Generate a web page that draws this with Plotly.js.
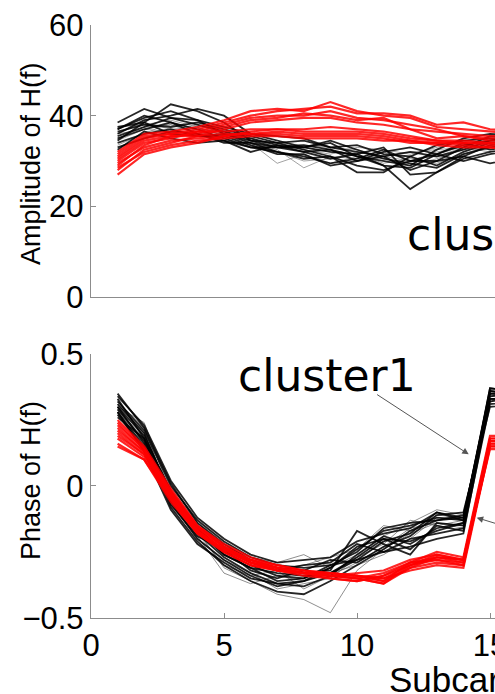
<!DOCTYPE html>
<html>
<head>
<meta charset="utf-8">
<script src="https://cdn.plot.ly/plotly-3.0.1.min.js"></script>
<style>
html,body{margin:0;padding:0;overflow:hidden;background:#fff;}
#chart{width:1000px;height:694px;}
</style>
</head>
<body>
<div id="chart"></div>
<script>
// Subcarrier indices (visible part of the chart)
const subcarrier = [1,2,3,4,5,6,7,8,9,10,11,12,13,14,15,16];

// Amplitude of H(f) — cluster 1 (black), thin grey samples, cluster 2 (red)
const ampBlack = [
  [38.5,41.5,39.5,38.0,36.5,35.0,33.5,33.0,32.0,31.5,29.0,23.8,27.5,31.0,33.5,34.0],
  [37.5,38.5,42.5,41.0,38.5,34.5,34.0,32.5,31.0,27.5,27.5,31.0,29.0,32.0,34.0,34.5],
  [36.0,39.0,40.0,41.5,40.0,36.0,35.5,35.0,33.0,32.0,31.0,28.0,30.0,33.0,35.5,35.0],
  [35.0,37.0,38.5,37.0,35.0,33.0,32.0,31.0,29.5,30.5,32.5,30.0,31.5,33.5,34.5,35.0],
  [34.0,36.0,37.0,35.5,36.0,34.5,33.0,33.5,32.5,31.0,30.0,29.0,32.5,35.0,36.0,35.5],
  [37.0,40.0,38.5,36.0,34.5,32.0,33.5,32.0,30.5,31.5,33.0,27.0,27.5,30.5,32.0,33.0],
  [33.0,35.0,36.5,36.0,34.0,34.0,32.0,30.5,31.0,29.0,28.0,30.0,30.0,31.0,29.5,30.5],
  [36.5,38.0,37.5,38.5,37.0,35.5,34.0,34.5,33.0,33.5,31.5,31.0,33.5,34.5,35.0,34.5],
  [32.5,36.5,35.0,34.0,34.5,33.0,33.0,32.0,32.5,30.0,31.0,32.0,31.0,32.5,34.5,35.0],
  [35.5,37.5,39.5,39.0,37.5,36.0,34.5,33.0,34.5,32.5,30.5,29.5,28.5,31.5,33.0,34.0],
  [34.5,38.5,36.0,35.5,35.5,33.5,31.5,31.5,29.0,30.0,32.0,33.0,31.5,30.0,31.5,32.5],
  [37.0,39.5,41.0,39.0,36.0,34.0,33.0,33.0,34.0,31.0,29.0,28.5,31.5,34.0,32.5,33.5]
];
const ampGray = [
  [35.0,37.5,38.0,36.5,35.0,33.5,32.0,30.0,30.5,32.0,31.0,30.0,32.0,33.0,34.0,34.5],
  [36.0,38.5,37.0,37.5,34.5,34.0,29.5,31.5,29.5,31.0,30.5,29.0,30.5,32.5,33.0,33.5],
  [33.5,36.0,38.5,37.0,36.5,33.0,33.5,32.5,31.5,33.0,32.5,31.5,33.0,34.5,34.0,35.0],
  [34.5,37.0,36.5,38.0,36.0,35.0,33.0,33.0,32.0,31.5,29.5,30.5,31.0,33.0,35.0,34.0],
  [37.5,38.0,39.0,37.5,35.5,34.0,32.5,28.5,31.0,30.5,32.0,30.0,29.5,31.5,33.5,33.0],
  [36.0,37.0,38.0,36.0,36.5,34.5,34.0,33.5,33.0,32.5,31.0,32.0,32.5,33.0,32.0,33.0]
];
const ampRed = [
  [32.0,36.0,36.5,37.5,39.0,41.0,41.5,41.0,43.0,41.0,40.0,39.5,37.5,37.0,36.5,36.0],
  [31.0,35.0,36.0,37.0,38.5,40.0,41.0,41.5,42.0,40.5,40.5,40.0,38.0,38.5,37.0,36.5],
  [30.0,34.0,35.0,36.5,38.0,39.5,40.0,40.0,41.0,39.5,39.0,38.0,37.0,35.5,35.0,35.0],
  [29.0,33.5,35.5,36.0,37.5,39.0,39.5,40.5,40.0,39.0,39.5,37.0,36.5,36.0,35.5,35.5],
  [28.0,32.5,34.0,35.5,37.0,38.5,39.0,39.5,39.5,38.5,38.0,37.0,35.0,35.5,34.5,34.5],
  [27.0,31.5,33.0,34.0,35.5,36.5,37.0,37.0,37.5,37.0,36.5,35.5,34.5,34.0,34.0,34.0],
  [31.5,35.5,36.0,36.5,36.5,37.0,37.0,36.5,36.5,36.5,36.0,35.0,34.5,34.5,34.0,33.5],
  [30.5,34.5,35.5,35.5,36.0,36.0,36.5,36.0,36.0,36.0,35.5,34.5,34.0,34.0,33.5,33.5],
  [29.5,33.0,34.5,35.0,35.5,36.0,36.0,35.5,35.5,35.5,35.0,34.0,34.0,33.5,33.0,33.0],
  [28.5,32.0,33.5,34.5,35.0,35.5,35.5,35.0,35.0,35.0,34.5,34.5,33.5,33.0,33.0,32.5]
];

// Phase of H(f)
const phaseBlack = [
  [0.35,0.22,0.01,-0.14,-0.22,-0.28,-0.31,-0.33,-0.32,-0.17,-0.22,-0.26,-0.14,-0.15,0.37,0.36],
  [0.33,0.18,-0.02,-0.16,-0.25,-0.30,-0.34,-0.35,-0.30,-0.28,-0.21,-0.18,-0.10,-0.12,0.36,0.35],
  [0.31,0.20,-0.04,-0.18,-0.27,-0.33,-0.37,-0.38,-0.34,-0.26,-0.19,-0.22,-0.16,-0.14,0.35,0.34],
  [0.30,0.16,-0.06,-0.20,-0.28,-0.34,-0.38,-0.36,-0.31,-0.24,-0.17,-0.15,-0.12,-0.13,0.34,0.35],
  [0.29,0.17,-0.03,-0.15,-0.23,-0.29,-0.32,-0.30,-0.29,-0.22,-0.25,-0.20,-0.18,-0.16,0.33,0.33],
  [0.28,0.15,-0.08,-0.21,-0.30,-0.36,-0.40,-0.41,-0.36,-0.30,-0.24,-0.17,-0.13,-0.11,0.32,0.34],
  [0.27,0.14,-0.05,-0.17,-0.26,-0.31,-0.33,-0.34,-0.33,-0.27,-0.20,-0.24,-0.15,-0.17,0.31,0.32],
  [0.26,0.18,-0.07,-0.19,-0.24,-0.32,-0.35,-0.32,-0.28,-0.29,-0.23,-0.19,-0.11,-0.10,0.30,0.31],
  [0.32,0.21,0.00,-0.13,-0.21,-0.27,-0.30,-0.31,-0.30,-0.25,-0.16,-0.14,-0.13,-0.12,0.35,0.36],
  [0.30,0.19,-0.02,-0.16,-0.26,-0.31,-0.36,-0.35,-0.31,-0.23,-0.20,-0.21,-0.17,-0.14,0.36,0.34],
  [0.28,0.13,-0.09,-0.22,-0.29,-0.35,-0.37,-0.36,-0.33,-0.28,-0.25,-0.23,-0.20,-0.18,0.33,0.33],
  [0.34,0.23,0.02,-0.12,-0.20,-0.26,-0.29,-0.28,-0.27,-0.21,-0.18,-0.16,-0.10,-0.13,0.37,0.36]
];
const phaseGray = [
  [0.30,0.24,-0.03,-0.17,-0.31,-0.36,-0.41,-0.43,-0.48,-0.32,-0.24,-0.18,-0.14,-0.15,0.34,0.35],
  [0.32,0.22,-0.05,-0.19,-0.33,-0.37,-0.34,-0.36,-0.33,-0.30,-0.26,-0.20,-0.12,-0.12,0.33,0.34],
  [0.29,0.18,-0.01,-0.14,-0.23,-0.27,-0.29,-0.26,-0.31,-0.26,-0.19,-0.14,-0.09,-0.11,0.32,0.33],
  [0.27,0.16,-0.07,-0.20,-0.28,-0.33,-0.39,-0.37,-0.35,-0.27,-0.22,-0.13,-0.15,-0.13,0.35,0.34],
  [0.31,0.20,-0.04,-0.16,-0.25,-0.29,-0.31,-0.30,-0.27,-0.24,-0.15,-0.17,-0.11,-0.12,0.36,0.35],
  [0.28,0.17,-0.06,-0.18,-0.30,-0.34,-0.32,-0.39,-0.34,-0.29,-0.23,-0.16,-0.14,-0.16,0.33,0.32]
];
const phaseRed = [
  [0.25,0.15,-0.01,-0.15,-0.22,-0.27,-0.30,-0.32,-0.33,-0.34,-0.36,-0.29,-0.25,-0.27,0.19,0.19],
  [0.24,0.14,-0.02,-0.15,-0.23,-0.28,-0.30,-0.32,-0.33,-0.34,-0.35,-0.30,-0.26,-0.28,0.18,0.18],
  [0.23,0.14,-0.02,-0.16,-0.23,-0.28,-0.31,-0.32,-0.34,-0.35,-0.37,-0.31,-0.27,-0.28,0.18,0.18],
  [0.22,0.13,-0.03,-0.16,-0.23,-0.28,-0.31,-0.33,-0.34,-0.35,-0.33,-0.29,-0.28,-0.29,0.17,0.17],
  [0.21,0.13,-0.03,-0.17,-0.24,-0.29,-0.31,-0.33,-0.34,-0.33,-0.32,-0.28,-0.26,-0.28,0.17,0.17],
  [0.20,0.12,-0.04,-0.17,-0.24,-0.29,-0.32,-0.33,-0.35,-0.36,-0.34,-0.30,-0.28,-0.30,0.16,0.16],
  [0.19,0.12,-0.04,-0.17,-0.24,-0.29,-0.32,-0.33,-0.34,-0.34,-0.36,-0.31,-0.29,-0.30,0.16,0.16],
  [0.18,0.11,-0.05,-0.18,-0.24,-0.29,-0.31,-0.33,-0.33,-0.34,-0.35,-0.32,-0.30,-0.31,0.15,0.15],
  [0.16,0.10,-0.05,-0.18,-0.25,-0.30,-0.32,-0.33,-0.34,-0.35,-0.37,-0.30,-0.27,-0.29,0.15,0.15],
  [0.15,0.10,-0.06,-0.18,-0.25,-0.30,-0.32,-0.34,-0.35,-0.36,-0.34,-0.29,-0.27,-0.28,0.14,0.14]
];

const labels = {
  ampTitle: 'Amplitude of H(f)',
  phaseTitle: 'Phase of H(f)',
  xTitle: 'Subcarrier index',
  cluster1: 'cluster1',
  cluster2: 'cluster2'
};

const traces = [];
function addGroup(rows, xa, ya, color, width, opacity) {
  rows.forEach(r => traces.push({
    type: 'scatter', mode: 'lines', x: subcarrier, y: r,
    xaxis: xa, yaxis: ya, showlegend: false, hoverinfo: 'skip',
    opacity: opacity, line: {color: color, width: width}
  }));
}
addGroup(ampGray, 'x', 'y', '#555555', 1, 0.55);
addGroup(ampBlack, 'x', 'y', '#000000', 1.8, 0.85);
addGroup(ampRed, 'x', 'y', '#ff0000', 2.2, 0.85);
addGroup(phaseGray, 'x2', 'y2', '#444444', 1, 0.6);
addGroup(phaseBlack, 'x2', 'y2', '#000000', 1.8, 0.85);
addGroup(phaseRed, 'x2', 'y2', '#ff0000', 2.2, 0.85);

const tickFont = {family: 'Liberation Sans, Arial, sans-serif', size: 31, color: '#000'};
const titleFont = {family: 'Liberation Sans, Arial, sans-serif', size: 27, color: '#000'};
const axisCommon = {
  showgrid: false, zeroline: false, showline: true,
  linecolor: '#8c8c8c', linewidth: 1.2,
  ticks: 'inside', ticklen: 5, tickcolor: '#8c8c8c',
  tickfont: tickFont
};

const layout = {
  width: 1000, height: 694,
  margin: {l: 91, r: 111, t: 25, b: 76},
  paper_bgcolor: '#fff', plot_bgcolor: '#fff',
  showlegend: false,
  xaxis: Object.assign({}, axisCommon, {
    domain: [0, 1], range: [0, 30], anchor: 'y',
    showticklabels: false, ticks: ''
  }),
  yaxis: Object.assign({}, axisCommon, {
    domain: [0.5413, 1], range: [0, 60], tickvals: [0, 20, 40, 60], anchor: 'x'
  }),
  xaxis2: Object.assign({}, axisCommon, {
    domain: [0, 1], range: [0, 30], anchor: 'y2', dtick: 5, tick0: 0
  }),
  yaxis2: Object.assign({}, axisCommon, {
    domain: [0, 0.4452], range: [-0.5, 0.5], tickvals: [-0.5, 0, 0.5], anchor: 'x2',
    ticktext: ['\u22120.5', '0', '0.5']
  }),
  annotations: [
    // axis titles
    {xref: 'paper', yref: 'paper', x: -0.0752, y: 0.7673, text: labels.ampTitle,
     textangle: -90, showarrow: false, xanchor: 'center', yanchor: 'middle', font: titleFont},
    {xref: 'paper', yref: 'paper', x: -0.0752, y: 0.2327, text: labels.phaseTitle,
     textangle: -90, showarrow: false, xanchor: 'center', yanchor: 'middle', font: titleFont},
    {xref: 'paper', yref: 'paper', x: 0.3709, y: -0.104, text: labels.xTitle,
     showarrow: false, xanchor: 'left', yanchor: 'middle',
     font: {family: 'Liberation Sans, Arial, sans-serif', size: 35, color: '#000'}},
    // cluster labels
    {xref: 'x2', yref: 'y2', x: 5.45, y: 0.42, text: labels.cluster1, showarrow: false,
     xanchor: 'left', yanchor: 'middle',
     font: {family: 'DejaVu Sans, sans-serif', size: 44, color: '#000'}},
    {xref: 'x', yref: 'y', x: 11.8, y: 13.7, text: labels.cluster2, showarrow: false,
     xanchor: 'left', yanchor: 'middle',
     font: {family: 'DejaVu Sans, sans-serif', size: 44, color: '#000'}},
    // arrows
    {xref: 'x2', yref: 'y2', axref: 'x2', ayref: 'y2', x: 14.2, y: 0.12, ax: 10.7, ay: 0.35,
     text: '', showarrow: true, arrowhead: 2, arrowsize: 1.3, arrowwidth: 1, arrowcolor: '#555'},
    {xref: 'x2', yref: 'y2', axref: 'x2', ayref: 'y2', x: 14.5, y: -0.12, ax: 15.8, ay: -0.16,
     text: '', showarrow: true, arrowhead: 2, arrowsize: 1.3, arrowwidth: 1, arrowcolor: '#555'}
  ]
};

Plotly.newPlot('chart', traces, layout, {displayModeBar: false, staticPlot: true});
</script>
</body>
</html>
